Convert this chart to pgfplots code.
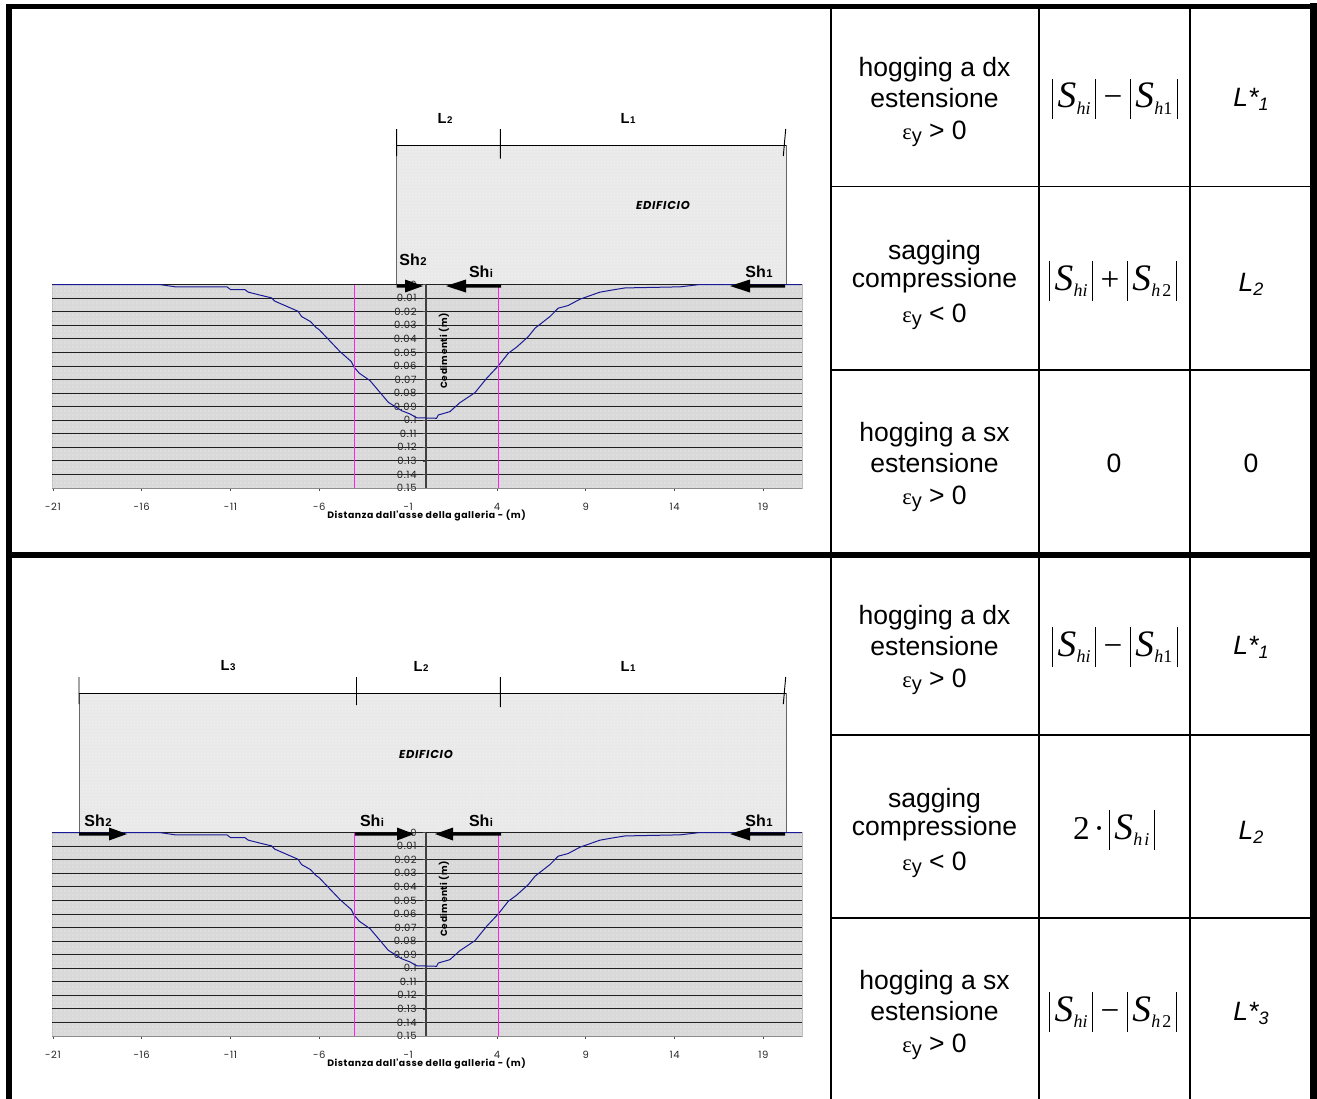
\documentclass[border=0pt]{standalone}
\usepackage{fontspec}
\usepackage{pgfplots}
\usepackage{pgfplotstable}
\usetikzlibrary{patterns.meta}
\pgfplotsset{compat=1.18}
\setmainfont{Liberation Sans}
\newfontfamily\gfont[LetterSpace=6]{Poppins}
\newfontfamily\tfont{Liberation Serif}
\definecolor{ground}{HTML}{D9D9D9}
\definecolor{bldg}{HTML}{E9E9E9}
\definecolor{curve}{HTML}{1A1A96}
\definecolor{pinkl}{HTML}{FF20F0}

\pgfplotstableread{
x y
-21 0
-15 0
-14.1 0.0017
-11.2 0.0017
-11 0.0037
-10.2 0.0037
-10 0.0056
-9.4 0.0076
-8.7 0.0098
-8.5 0.0123
-7.9 0.0157
-7.2 0.0197
-7.0 0.0236
-6.5 0.0273
-6.2 0.0315
-6.0 0.0334
-4.84 0.0494
-4.2 0.0568
-4.05 0.0608
-3.75 0.0654
-3.15 0.0708
-2.12 0.0868
-1.37 0.0930
-0.9 0.0954
-0.52 0.0982
0.6 0.0986
0.69 0.0962
1.35 0.0937
1.91 0.0871
2.76 0.0797
3.42 0.0691
4.07 0.06
4.64 0.0506
5.1 0.0462
5.76 0.0384
6.14 0.0322
6.98 0.0236
7.45 0.0174
8.0 0.0155
8.67 0.0108
9.8 0.0056
10.5 0.004
11.2 0.0025
14.3 0.0017
14.9 0.0008
15.4 0
21.1 0
}\settlement

\pgfplotsset{settleaxis/.style={
  anchor=south west, scale only axis,
  width=562.5pt, height=152.6pt,
  xmin=-21.05, xmax=21.17, ymin=0, ymax=0.15,
  y dir=reverse,
  axis x line=bottom, axis y line=center,
  hide obscured x ticks=false, hide obscured y ticks=false,
  x axis line style={-, draw=black!45, line width=.6pt},
  y axis line style={-, draw=black!75, line width=1.4pt},
  axis background/.style={fill=ground, draw=black!25, postaction={pattern={Dots[distance=3pt,radius=.35pt,xshift=.7pt]},pattern color=white}},
  xtick={-21,-16,-11,-6,-1,4,9,14,19},
  xticklabels={-21,-16,-11,-6,-1,4,9,14,19},
  ytick={0,0.01,0.02,0.03,0.04,0.05,0.06,0.07,0.08,0.09,0.1,0.11,0.12,0.13,0.14,0.15},
  yticklabels={0,0.01,0.02,0.03,0.04,0.05,0.06,0.07,0.08,0.09,0.1,0.11,0.12,0.13,0.14,0.15},
  scaled y ticks=false,
  ymajorgrids, major grid style={draw=black!88, line width=.6pt},
  tick style={draw=black!70, line width=.5pt},
  major tick length=2pt,
  tick align=outside,
  tick label style={font=\gfont\fontsize{7.5pt}{8pt}\selectfont, text=black!85},
  xticklabel style={yshift=-6pt},
  yticklabel style={xshift=-1.5pt},
  clip=false,
  xlabel={},ylabel={},
}}

\newcommand{\bbar}{\rule[-8pt]{1pt}{29.5pt}}
\newcommand{\fS}[1]{\kern3.2pt{\fontsize{28pt}{28pt}\selectfont\itshape S}\kern.2pt\raisebox{-5pt}{\fontsize{13.5pt}{13.5pt}\selectfont #1}\kern3.2pt}
\newcommand{\subhi}{\itshape hi}
\newcommand{\hone}{{\itshape h}1}
\newcommand{\htwo}{{\itshape h}\kern1.5pt 2}
\newcommand{\form}[3]{{\tfont\bbar\fS{#1}\bbar\kern5.5pt{\fontsize{25pt}{25pt}\selectfont #2}\kern5.5pt\bbar\fS{#3}\bbar}}
\newcommand{\shlab}[1]{{\fontsize{12pt}{12pt}\selectfont\bfseries Sh\kern.3pt{\fontsize{8.5pt}{8.5pt}\selectfont #1}}}
\newcommand{\lenl}[1]{{\fontsize{11pt}{11pt}\selectfont\bfseries L\kern.4pt{\fontsize{7.3pt}{7.3pt}\selectfont #1}}}
\newcommand{\tcell}[1]{{\fontsize{19.9pt}{24pt}\selectfont #1}}
\newcommand{\myeps}{{\tfont\fontsize{17pt}{17pt}\selectfont\char"03B5}\raisebox{-2pt}{\fontsize{15pt}{15pt}\selectfont y}}
\newcommand{\Ls}[1]{{\fontsize{19.9pt}{20pt}\selectfont\itshape #1}}
\newcommand{\lsub}[1]{\raisebox{-3pt}{\fontsize{13.5pt}{13.5pt}\selectfont #1}}

\begin{document}
\begin{tikzpicture}[x=.75pt,y=-.75pt]
\path[use as bounding box] (0,0) rectangle (1317,1099);

% buildings
\fill[bldg] (396.7,145) rectangle (786,285);
\fill[pattern={Dots[distance=2.4pt,radius=.3pt]},pattern color=white] (396.7,145) rectangle (786,285);
\draw[black!60,line width=.7pt] (396.7,145) -- (396.7,285) (786,145) -- (786,285);
\fill[bldg] (79,693) rectangle (786,834);
\fill[pattern={Dots[distance=2.4pt,radius=.3pt]},pattern color=white] (79,693) rectangle (786,834);
\draw[black!60,line width=.7pt] (79,693) -- (79,834) (786,693) -- (786,834);

% upper chart
\begin{axis}[settleaxis, at={(39pt,-366pt)}]
\addplot[curve, line width=.75pt] table[x=x,y=y] {\settlement};
\addplot[pinkl, line width=.85pt] coordinates {(-4.0,0) (-4.0,0.15)};
\addplot[pinkl, line width=.85pt] coordinates {(4.1,0) (4.1,0.15)};
\end{axis}
% lower chart
\begin{axis}[settleaxis, at={(39pt,-777pt)}]
\addplot[curve, line width=.75pt] table[x=x,y=y] {\settlement};
\addplot[pinkl, line width=.85pt] coordinates {(-4.0,0) (-4.0,0.15)};
\addplot[pinkl, line width=.85pt] coordinates {(4.1,0) (4.1,0.15)};
\end{axis}

% axis titles
\foreach \dy in {0,548}{
  \node[font=\gfont\bfseries\fontsize{7pt}{7pt}\selectfont, inner sep=0pt] at (426.5,516+\dy) {Distanza dall'asse della galleria - (m)};
  \node[font=\gfont\bfseries\fontsize{6.8pt}{7pt}\selectfont, inner sep=0pt, rotate=90] at (444,351+\dy) {Cedimenti (m)};
}

% dimension lines, upper
\draw[black,line width=.75pt] (396.7,145) -- (786,145);
\draw[black,line width=.7pt] (396.7,129) -- (396.7,156) (500.3,129) -- (500.3,158.5) (785.7,129) -- (783.3,156);
\node[inner sep=0pt] at (445,118) {\lenl{2}};
\node[inner sep=0pt] at (628,118) {\lenl{1}};
\node[inner sep=0pt,font=\gfont\bfseries\itshape\fontsize{8.6pt}{9pt}\selectfont] at (663,205) {EDIFICIO};
% dimension lines, lower
\draw[black,line width=.75pt] (79,693) -- (786,693);
\draw[black,line width=.7pt] (79,677) -- (79,704) (356.5,677) -- (356.5,705) (500.3,677) -- (500.3,707) (785.7,677) -- (783.3,704);
\node[inner sep=0pt] at (228,666) {\lenl{3}};
\node[inner sep=0pt] at (421,666) {\lenl{2}};
\node[inner sep=0pt] at (628,666) {\lenl{1}};
\node[inner sep=0pt,font=\gfont\bfseries\itshape\fontsize{8.6pt}{9pt}\selectfont] at (426,754) {EDIFICIO};

% arrows
\def\arrR#1#2#3#4{\fill[black] (#1,#4-1.6) rectangle (#2,#4+1.6) (#2,#4-6.5) -- (#3,#4) -- (#2,#4+6.5) -- cycle;}
\arrR{396.7}{405}{423}{286}
\arrR{501}{466}{446}{286}
\arrR{785}{750}{730}{286}
\arrR{79}{109}{127}{834}
\arrR{355}{397}{414}{834}
\arrR{501}{453}{435}{834}
\arrR{785}{750}{730}{834}
\node[inner sep=0pt] at (413,260) {\shlab{2}};
\node[inner sep=0pt] at (481,272) {\shlab{i}};
\node[inner sep=0pt] at (759,272) {\shlab{1}};
\node[inner sep=0pt] at (98,821) {\shlab{2}};
\node[inner sep=0pt] at (372,821) {\shlab{i}};
\node[inner sep=0pt] at (481,821) {\shlab{i}};
\node[inner sep=0pt] at (759,821) {\shlab{1}};

% table rules
\draw[black,line width=1.4pt]
  (831,9) -- (831,552) (831,558) -- (831,1099)
  (1039,9) -- (1039,552) (1039,558) -- (1039,1099)
  (1190,9) -- (1190,552) (1190,558) -- (1190,1099)
  (831,186.5) -- (1310,186.5) (831,370) -- (1310,370)
  (831,735) -- (1310,735) (831,918) -- (1310,918);
% frame
\fill[black] (6,4) rectangle (12,1099);
\fill[black] (6,4) rectangle (1310,9);
\fill[black] (1310,3) rectangle (1316.5,1099);
\fill[black] (6,552) rectangle (1316.5,558);

% table text
\def\cellrows#1#2#3#4{%
  \node[inner sep=0pt] at (934.5,#1+2) {\tcell{#2}};
  \node[inner sep=0pt] at (934.5,#1+30) {\tcell{#3}};
  \node[inner sep=0pt] at (934.5,#1+66) {\tcell{\myeps\ #4}};
}
\cellrows{68}{hogging a dx}{estensione}{> 0}
\cellrows{251}{sagging}{compressione}{< 0}
\cellrows{433}{hogging a sx}{estensione}{> 0}
\cellrows{616}{hogging a dx}{estensione}{> 0}
\cellrows{799}{sagging}{compressione}{< 0}
\cellrows{981}{hogging a sx}{estensione}{> 0}

\node[inner sep=0pt] at (1115,99) {\form{\subhi}{−}{\hone}};
\node[inner sep=0pt] at (1113,281) {\form{\subhi}{+}{\htwo}};
\node[inner sep=0pt] at (1114,463) {\tcell{0}};
\node[inner sep=0pt] at (1115,647) {\form{\subhi}{−}{\hone}};
\node[inner sep=0pt] at (1114,830) {{\tfont{\fontsize{25pt}{25pt}\selectfont 2\kern3pt·\kern3pt}\bbar\fS{{\itshape h\kern1.5pt i}}\bbar}};
\node[inner sep=0pt] at (1113,1012) {\form{\subhi}{−}{\htwo}};

\node[inner sep=0pt] at (1251,99) {\Ls{L*\lsub{1}}};
\node[inner sep=0pt] at (1251,284) {\Ls{L\lsub{2}}};
\node[inner sep=0pt] at (1251,463) {\tcell{0}};
\node[inner sep=0pt] at (1251,647) {\Ls{L*\lsub{1}}};
\node[inner sep=0pt] at (1251,832) {\Ls{L\lsub{2}}};
\node[inner sep=0pt] at (1251,1013) {\Ls{L*\lsub{3}}};
\end{tikzpicture}
\end{document}
